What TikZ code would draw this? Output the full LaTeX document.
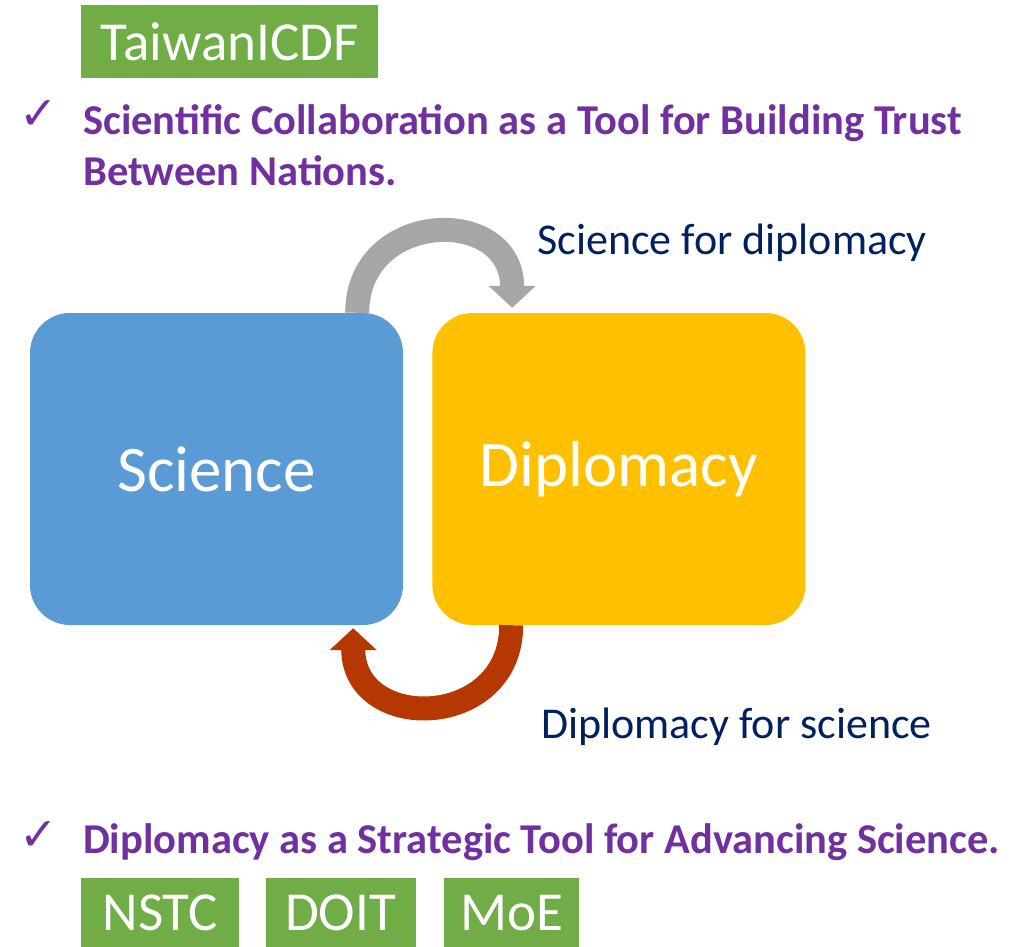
\documentclass[tikz,border=0pt]{standalone}
\usepackage{fontspec}
\setmainfont{Carlito}
\newfontfamily\symfont{DejaVu Sans}
\usetikzlibrary{arrows.meta,shapes,positioning,calc}
\definecolor{icdfgreen}{RGB}{112,173,71}
\definecolor{sciblue}{RGB}{91,155,213}
\definecolor{dipgold}{RGB}{255,192,0}
\definecolor{arcgray}{RGB}{166,166,166}
\definecolor{arcred}{RGB}{180,56,0}
\definecolor{bulletpurple}{RGB}{112,48,160}
\definecolor{labelnavy}{RGB}{0,32,96}

\begin{document}
\begin{tikzpicture}[x=1pt,y=1pt,node distance=29pt]
\tikzstyle{agency}=[rectangle, fill=icdfgreen, text=white, inner sep=0pt,
 minimum height=70pt, font=\fontsize{55}{60}\selectfont]
\tikzstyle{field}=[rectangle, rounded corners=40pt, minimum width=373pt,
 minimum height=312pt, text=white, inner sep=0pt, font=\fontsize{65}{70}\selectfont]
\tikzstyle{tick}=[text=bulletpurple, inner sep=0pt, font=\symfont\fontsize{46}{46}\selectfont]
\tikzstyle{point}=[text=bulletpurple, inner sep=0pt, align=left, font=\bfseries\fontsize{42.5}{51}\selectfont]
\tikzstyle{flow}=[line width=24pt, -{Triangle[width=46pt,length=22pt]}]
\tikzstyle{flowlabel}=[text=labelnavy, inner sep=0pt, font=\fontsize{44}{48}\selectfont]

\useasboundingbox (0,0) rectangle (1017,-947);

\node[agency, minimum width=297pt, minimum height=73pt, anchor=north west] (ICDF) at (81,-5) {TaiwanICDF};

\node[tick] (C1) at (39,-115) {✓};
\node[point, anchor=base west] (T1) at (83,-185) {Scientific Collaboration as a Tool for Building Trust\\Between Nations.};

\node[field, fill=sciblue] (Sci) at (216.5,-469) {Science};
\node[field, fill=dipgold, right=of Sci] (Dip) {Diplomacy};

%science for diplomacy
\draw[flow, arcgray] ([xshift=-46pt]Sci.north east) to[out=90,in=90,looseness=1.7] ([xshift=80pt,yshift=5pt]Dip.north west);
\node[flowlabel, anchor=west] (SfD) at (537,-243) {Science for diplomacy};

%diplomacy for science
\draw[flow, arcred] ([xshift=79pt]Dip.south west) to[out=-90,in=-90,looseness=1.7] ([xshift=-50pt,yshift=-3pt]Sci.south east);
\node[flowlabel, anchor=west] (DfS) at (541,-727) {Diplomacy for science};

\node[tick] (C2) at (39,-836) {✓};
\node[point, anchor=base west] (T2) at (83,-853) {Diplomacy as a Strategic Tool for Advancing Science.};

\node[agency, minimum width=158pt, anchor=north west] (NSTC) at (81,-878) {NSTC};
\node[agency, minimum width=150pt, right=26pt of NSTC] (DOIT) {DOIT};
\node[agency, minimum width=135pt, right=28pt of DOIT] (MoE) {MoE};

\end{tikzpicture}
\end{document}
